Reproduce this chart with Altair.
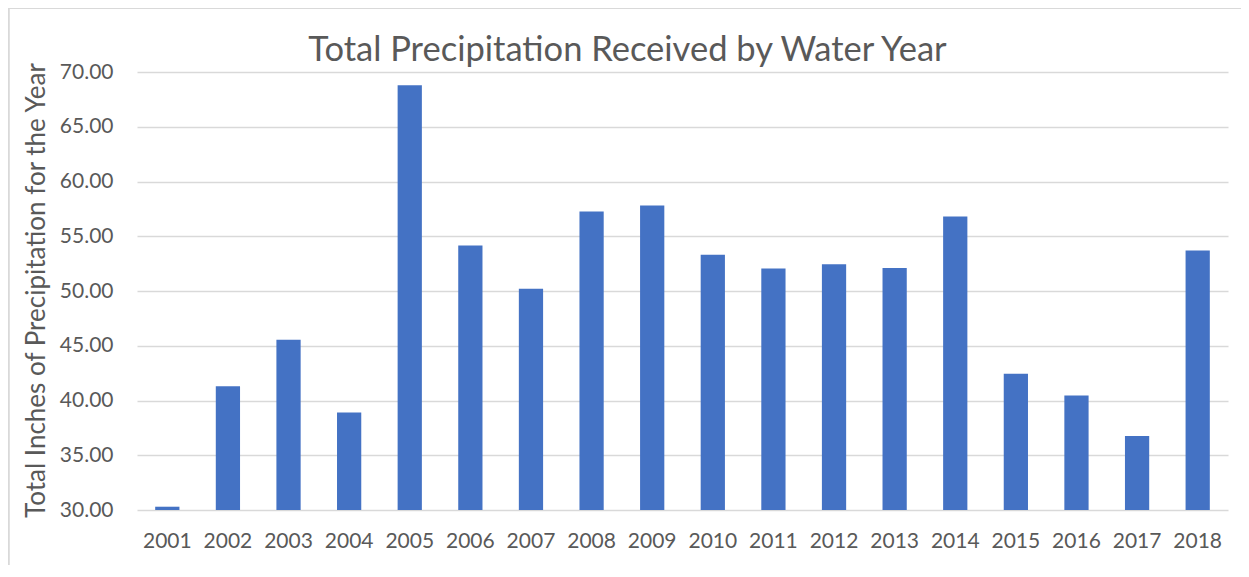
import altair as alt
import pandas as pd

years = [str(y) for y in range(2001, 2019)]
precip = [30.30, 41.30, 45.55, 38.90, 68.80, 54.15, 50.20, 57.25, 57.80,
          53.30, 52.05, 52.45, 52.10, 56.80, 42.45, 40.45, 36.75, 53.70]
y_ticks = [30, 35, 40, 45, 50, 55, 60, 65, 70]

df = pd.DataFrame({"year": years, "precip": precip})

FONT = "Lato"
TXT = "#595959"
W, H = 1091, 438

bars = alt.Chart(df).mark_bar(color="#4472c4").encode(
    x=alt.X("year:N", sort=years, title=None,
            scale=alt.Scale(paddingInner=0.6, paddingOuter=0.3),
            axis=alt.Axis(labelAngle=0, ticks=False, domain=False,
                          labelPadding=20, labelFontSize=21, labelFont=FONT,
                          labelColor=TXT, grid=False)),
    y=alt.Y("precip:Q", title="Total Inches of Precipitation for the Year",
            scale=alt.Scale(domain=[30, 70], zero=False, nice=False),
            axis=alt.Axis(values=y_ticks, format=".2f", ticks=False, domain=False,
                          labelPadding=24, labelFontSize=21, labelFont=FONT,
                          labelColor=TXT, grid=True, gridColor="#d9d9d9",
                          gridWidth=1.3, titleFont=FONT, titleFontSize=26,
                          titleFontWeight="normal", titleColor=TXT,
                          titleX=-101, titleY=H / 2 - 1, titleAngle=-90,
                          titleAlign="center", titleBaseline="middle")),
    y2=alt.datum(30),
)

border = alt.Chart(df).mark_rect(fill=None, stroke="#d9d9d9", strokeWidth=1.2).encode(
    x=alt.value(-128.5), x2=alt.value(W + 60), y=alt.value(-63.5), y2=alt.value(H + 100)
)

chart = alt.layer(border, bars).properties(
    width=W, height=H,
    title=alt.TitleParams("Total Precipitation Received by Water Year",
                          font=FONT, fontSize=34.5, fontWeight="normal", color=TXT,
                          anchor="middle", dx=-55, dy=99, offset=11,
                          baseline="alphabetic"),
    autosize=alt.AutoSizeParams(type="none"),
    padding={"left": 129, "top": 64, "right": 13, "bottom": 55},
).configure_view(stroke=None)

chart.save("out.html", embed_options={"renderer": "svg", "actions": False})
